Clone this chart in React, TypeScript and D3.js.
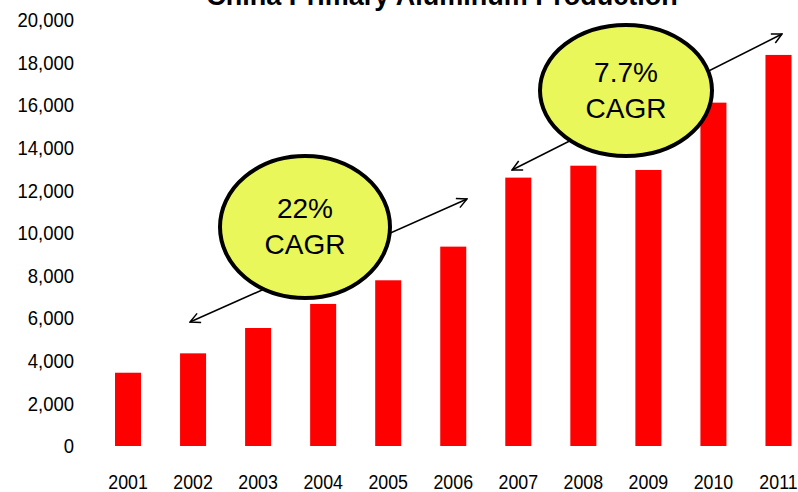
import React from "react";
import * as d3 from "d3";

const years = ["2001", "2002", "2003", "2004", "2005", "2006", "2007", "2008", "2009", "2010", "2011"];
const production = [3440, 4350, 5540, 6670, 7780, 9360, 12600, 13160, 12960, 16120, 18360];
const yTicks = [0, 2000, 4000, 6000, 8000, 10000, 12000, 14000, 16000, 18000, 20000];
const title = "China Primary Aluminum Production";
const cagrLabels = [
  { pct: "22%", text: "CAGR", cx: 305, cy: 227, rx: 85, ry: 71, a1: [190, 322], a2: [467, 199] },
  { pct: "7.7%", text: "CAGR", cx: 626, cy: 90.5, rx: 86, ry: 65.5, a1: [512, 170], a2: [782, 34] },
];

const W = 798;
const H = 492;
const FONT = "Arial, 'Liberation Sans', Helvetica, sans-serif";

export default function App() {
  const x = d3.scaleBand<string>().domain(years).range([95.5, 811]).paddingInner(0.6).paddingOuter(0.3);
  const y = d3.scaleLinear().domain([0, 20000]).range([446, 20]);
  const fmt = d3.format(",");

  return (
    <svg width={W} height={H} style={{ position: "absolute", left: 0, top: 0, background: "#fff" }} fontFamily={FONT}>
      <defs>
        <marker id="arr" viewBox="0 0 12 12" refX="11" refY="6" markerWidth="12" markerHeight="12" markerUnits="userSpaceOnUse" orient="auto-start-reverse">
          <path d="M1,1 L11,6 L1,11" fill="none" stroke="#000" strokeWidth={1.5} />
        </marker>
      </defs>
      <text x={442} y={4.5} textAnchor="middle" fontSize={27} fontWeight="bold" fill="#000">{title}</text>
      {yTicks.map((t) => (
        <text key={t} transform={`translate(74,${y(t)}) scale(1,1.1)`} textAnchor="end" dy="0.35em" fontSize={18.5} fill="#000">{fmt(t)}</text>
      ))}
      {years.map((yr, i) => (
        <rect key={yr} x={x(yr)} y={y(production[i])} width={x.bandwidth()} height={y(0) - y(production[i])} fill="#ff0000" />
      ))}
      {years.map((yr) => (
        <text key={"l" + yr} transform={`translate(${(x(yr) as number) + x.bandwidth() / 2},489) scale(1,1.12)`} textAnchor="middle" fontSize={17.8} fill="#000">{yr}</text>
      ))}
      {cagrLabels.map((c) => (
        <g key={c.pct}>
          <line x1={c.a1[0]} y1={c.a1[1]} x2={c.a2[0]} y2={c.a2[1]} stroke="#000" strokeWidth={1.5} markerStart="url(#arr)" markerEnd="url(#arr)" />
          <ellipse cx={c.cx} cy={c.cy} rx={c.rx} ry={c.ry} fill="#e9f75b" stroke="#000" strokeWidth={4} />
          <text x={c.cx} y={c.cy - 9} textAnchor="middle" fontSize={28} fill="#000">{c.pct}</text>
          <text x={c.cx} y={c.cy + 27} textAnchor="middle" fontSize={28} fill="#000">{c.text}</text>
        </g>
      ))}
    </svg>
  );
}
